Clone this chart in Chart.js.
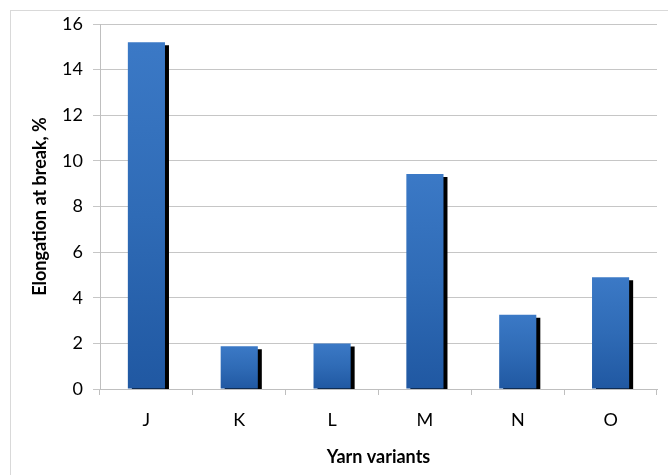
<!DOCTYPE html>
<html>
<head>
<meta charset="utf-8">
<script src="https://cdn.jsdelivr.net/npm/chart.js@4/dist/chart.umd.min.js"></script>
<style>
  html, body { margin: 0; padding: 0; background: #ffffff; }
  #wrap { width: 668px; height: 475px; position: relative; }
</style>
</head>
<body>
<div id="wrap"><canvas id="chart" width="668" height="475"></canvas></div>
<script>
// Yarn variants and their elongation at break (%)
const categories = ['J', 'K', 'L', 'M', 'N', 'O'];
const elongation = [15.2, 1.87, 2.0, 9.42, 3.26, 4.9];
const yTicks = [0, 2, 4, 6, 8, 10, 12, 14, 16];

const FONT = 'Lato, "Open Sans", "DejaVu Sans", sans-serif';

// Per-bar vertical gradient, lighter at the top
function barFill(context) {
  const chart = context.chart;
  const y = chart.scales.y;
  if (!y || context.dataIndex === undefined) return '#2e6cb5';
  const v = context.dataset.data[context.dataIndex];
  const top = y.getPixelForValue(v);
  const base = y.getPixelForValue(0);
  if (!isFinite(top) || !isFinite(base) || base === top) return '#2e6cb5';
  const g = chart.ctx.createLinearGradient(0, top, 0, base);
  g.addColorStop(0, '#3b79c6');
  g.addColorStop(0.5, '#2f6bb6');
  g.addColorStop(1, '#2058a2');
  return g;
}

// Hard black drop shadow behind each bar
const barShadow = {
  id: 'barShadow',
  beforeDatasetDraw(chart) {
    const ctx = chart.ctx;
    ctx.save();
    ctx.shadowColor = '#000000';
    ctx.shadowOffsetX = 4;
    ctx.shadowOffsetY = 3;
    ctx.shadowBlur = 0;
  },
  afterDatasetDraw(chart) {
    chart.ctx.restore();
  }
};

// Light frame around the whole chart
const frame = {
  id: 'frame',
  beforeDraw(chart) {
    const ctx = chart.ctx;
    ctx.save();
    ctx.fillStyle = '#ffffff';
    ctx.fillRect(0, 0, chart.width, chart.height);
    ctx.strokeStyle = '#d9d9d9';
    ctx.lineWidth = 1;
    ctx.strokeRect(10.5, 10.5, chart.width + 10, chart.height + 10);
    ctx.restore();
  }
};

new Chart(document.getElementById('chart'), {
  type: 'bar',
  data: {
    labels: categories,
    datasets: [{
      data: elongation,
      backgroundColor: barFill,
      borderWidth: 0,
      categoryPercentage: 1.0,
      barPercentage: 0.4
    }]
  },
  options: {
    responsive: false,
    animation: false,
    devicePixelRatio: 1,
    layout: { padding: { top: 24, right: 11, bottom: 0, left: 0 } },
    plugins: {
      legend: { display: false },
      tooltip: { enabled: false }
    },
    scales: {
      x: {
        grid: {
          display: true,
          drawOnChartArea: false,
          drawTicks: true,
          tickLength: 6,
          color: '#bfbfbf',
          offset: true
        },
        border: { display: true, color: '#bfbfbf', width: 1 },
        ticks: {
          color: '#000000',
          font: { family: FONT, size: 18 },
          padding: 14
        },
        title: {
          display: true,
          text: 'Yarn variants',
          color: '#000000',
          font: { family: FONT, size: 18, weight: 'bold' },
          padding: { top: 0, bottom: 7 }
        },
        afterFit(scale) { scale.height = 86; }
      },
      y: {
        min: 0,
        max: 16,
        afterBuildTicks(scale) {
          scale.ticks = yTicks.map(v => ({ value: v }));
        },
        grid: {
          color: '#c6c6c6',
          drawTicks: true,
          tickLength: 7
        },
        border: { display: true, color: '#bfbfbf', width: 1 },
        ticks: {
          color: '#000000',
          font: { family: FONT, size: 18 },
          padding: 10
        },
        title: {
          display: true,
          text: 'Elongation at break, %',
          color: '#000000',
          font: { family: FONT, size: 18, weight: 'bold' },
          padding: { top: 29, bottom: 0 }
        },
        afterFit(scale) { scale.width = 100; }
      }
    }
  },
  plugins: [frame, barShadow]
});
</script>
</body>
</html>
